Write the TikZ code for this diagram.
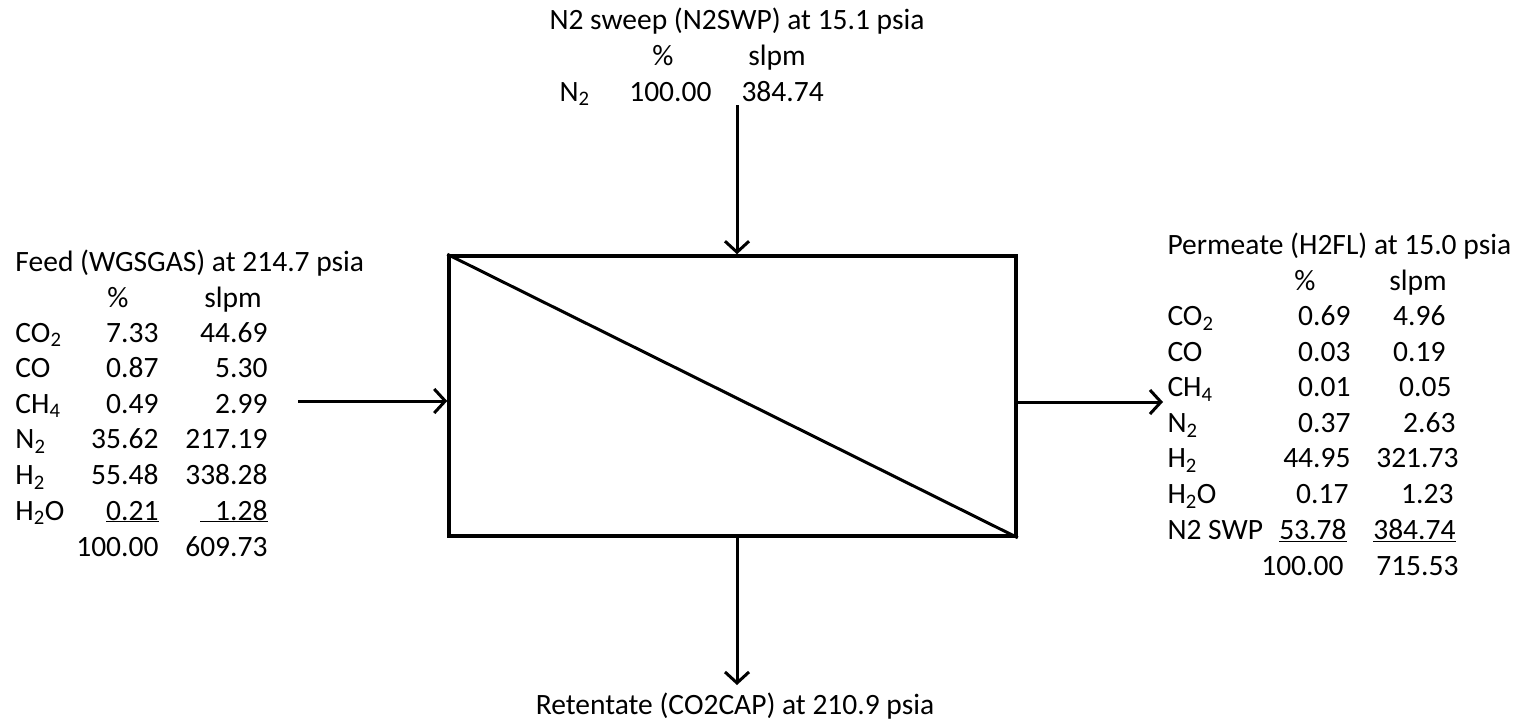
\documentclass[tikz,border=0pt]{standalone}
\usepackage{fontspec}
\setmainfont{Carlito}
\usetikzlibrary{arrows.meta,positioning}
\newcommand{\sub}[1]{\textsubscript{#1}}

\begin{document}
\begin{tikzpicture}[x=1pt, y=-1pt, >={Straight Barb[length=11pt,width=24pt]}, line width=3pt, every node/.style={font=\fontsize{29.5}{35.6}\selectfont, inner sep=0pt, text height=22pt, text depth=4pt}, lab/.style={anchor=west}, num/.style={anchor=east}, unit/.style={draw, line width=3.5pt, minimum width=567pt, minimum height=280pt}]
\useasboundingbox (0,0) rectangle (1519,723);
% membrane unit
\node[unit] (membrane) at (732.5,396) {};
\draw (membrane.north west) -- (membrane.south east);
% sweep stream
\node (sweeptitle) at (737,20) {N2 sweep (N2SWP) at 15.1 psia};
\node (sweeppchd) at (663,56) {\%};
\node (sweepflhd) at (777,56) {slpm};
\node[lab] (sweeplab) at (558,92) {N\sub{2}};
\node[num] (sweeppc) at (713,92) {100.00};
\node[lab] (sweepfl) at (740,92) {384.74};
\coordinate (sweepin) at (737,105);
% feed stream
\node[lab] (feedtitle) at (14,262) {Feed (WGSGAS) at 214.7 psia};
\node (feedpchd) at (118,298) {\%};
\node (feedflhd) at (233,298) {slpm};
\foreach \name/\pc/\fl [count=\i] in {CO\sub{2}/7.33/44.69, CO/0.87/5.30, CH\sub{4}/0.49/2.99, N\sub{2}/35.62/217.19, H\sub{2}/55.48/338.28, H\sub{2}O/\underline{0.21}/\underline{\hphantom{0}1.28}}{
  \node[lab] (feedlab\i) at (14,{333+(\i-1)*35.6}) {\name};
  \node[num] (feedpc\i) at (160,{333+(\i-1)*35.6}) {\pc};
  \node[num] (feedfl\i) at (269,{333+(\i-1)*35.6}) {\fl};
}
\node[num] (feedpctot) at (160,547) {100.00};
\node[num] (feedfltot) at (269,547) {609.73};
\coordinate (feedin) at (298,401);
% permeate stream
\node[lab] (permtitle) at (1166,245) {Permeate (H2FL) at 15.0 psia};
\node (permpchd) at (1305,281) {\%};
\node (permflhd) at (1418,281) {slpm};
\foreach \name/\pc/\fl/\px/\fx [count=\i] in {CO\sub{2}/0.69/4.96/1352/1447, CO/0.03/0.19/1352/1447, CH\sub{4}/0.01/0.05/1352/1453, N\sub{2}/0.37/2.63/1352/1457, H\sub{2}/44.95/321.73/1352/1460, H\sub{2}O/0.17/1.23/1350/1455, N2 SWP/\underline{53.78}/\underline{384.74}/1348/1457}{
  \node[lab] (permlab\i) at (1166,{316.5+(\i-1)*35.6}) {\name};
  \node[num] (permpc\i) at (\px,{316.5+(\i-1)*35.6}) {\pc};
  \node[num] (permfl\i) at (\fx,{316.5+(\i-1)*35.6}) {\fl};
}
\node[num] (permpctot) at (1345,566) {100.00};
\node[num] (permfltot) at (1460,566) {715.53};
\coordinate (permout) at (1163,402);
% retentate stream
\node (rettitle) at (735,705) {Retentate (CO2CAP) at 210.9 psia};
\coordinate (retout) at (737,685);
% connectors
\draw[->] (sweepin) -- (sweepin |- membrane.north);
\draw[->] (feedin) -- (feedin -| membrane.west);
\draw[->] (permout -| membrane.east) -- (permout);
\draw[->] (retout |- membrane.south) -- (retout);
\end{tikzpicture}
\end{document}
